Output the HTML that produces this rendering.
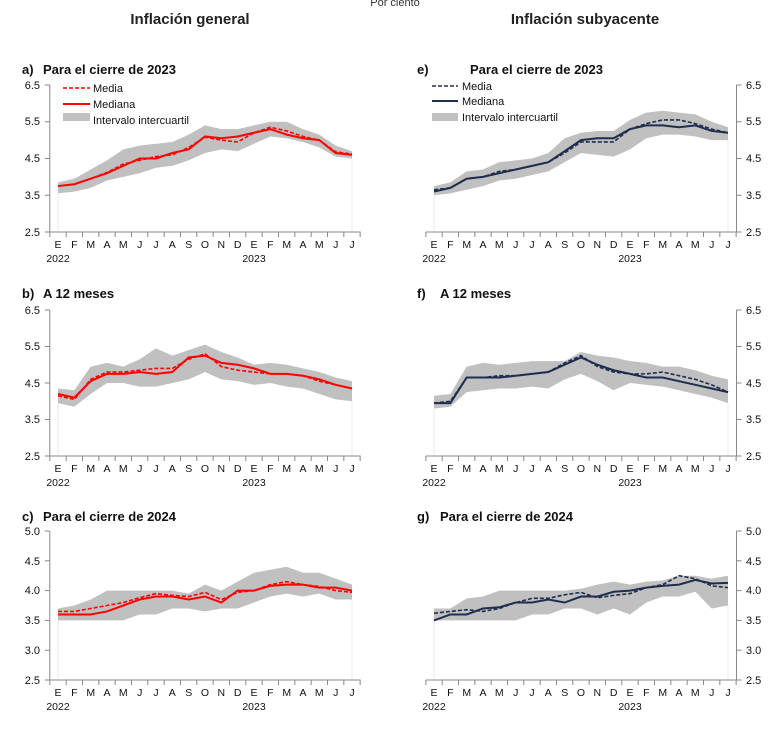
<!DOCTYPE html>
<html><head><meta charset="utf-8"><style>
html,body{margin:0;padding:0;background:#fff;}
svg{display:block;font-family:"Liberation Sans",sans-serif;}
.t{font-weight:bold;font-size:15px;fill:#222;}
.s{font-weight:bold;font-size:13px;fill:#111;}
.m{font-size:10.5px;fill:#111;text-anchor:middle;}
.yl{font-size:11px;fill:#111;}
.lg{font-size:11px;fill:#111;}
</style></head><body>
<svg id="c" width="777" height="738" viewBox="0 0 777 738">
<text x="395" y="6" font-size="11" fill="#333" text-anchor="middle">Por ciento</text>
<text class="t" x="190" y="24" text-anchor="middle">Inflación general</text>
<text class="t" x="585" y="24" text-anchor="middle">Inflación subyacente</text>

<text class="s" x="22" y="74">a)</text><text class="s" x="43" y="74">Para el cierre de 2023</text>
<text class="s" x="22" y="298">b)</text><text class="s" x="43" y="298">A 12 meses</text>
<text class="s" x="22" y="521">c)</text><text class="s" x="43" y="521">Para el cierre de 2024</text>
<text class="s" x="417" y="74">e)</text><text class="s" x="470" y="74">Para el cierre de 2023</text>
<text class="s" x="417" y="298">f)</text><text class="s" x="440" y="298">A 12 meses</text>
<text class="s" x="417" y="521">g)</text><text class="s" x="440" y="521">Para el cierre de 2024</text>

<g id="plots"></g>

<!-- y labels left -->
<g class="yl" text-anchor="end">
<text x="40" y="89">6.5</text><text x="40" y="125">5.5</text><text x="40" y="162">4.5</text><text x="40" y="199">3.5</text><text x="40" y="236">2.5</text>
<text x="40" y="314">6.5</text><text x="40" y="350">5.5</text><text x="40" y="387">4.5</text><text x="40" y="423">3.5</text><text x="40" y="460">2.5</text>
<text x="40" y="535">5.0</text><text x="40" y="565">4.5</text><text x="40" y="594">4.0</text><text x="40" y="624">3.5</text><text x="40" y="654">3.0</text><text x="40" y="684">2.5</text>
</g>
<g class="yl">
<text x="746" y="89">6.5</text><text x="746" y="125">5.5</text><text x="746" y="162">4.5</text><text x="746" y="199">3.5</text><text x="746" y="236">2.5</text>
<text x="746" y="314">6.5</text><text x="746" y="350">5.5</text><text x="746" y="387">4.5</text><text x="746" y="423">3.5</text><text x="746" y="460">2.5</text>
<text x="746" y="535">5.0</text><text x="746" y="565">4.5</text><text x="746" y="594">4.0</text><text x="746" y="624">3.5</text><text x="746" y="654">3.0</text><text x="746" y="684">2.5</text>
</g>
<!-- month labels -->
<g class="m">
<text x="58 74.3 90.7 107 123.3 139.7 156 172.3 188.7 205 221.3 237.7 254 270.3 286.7 303 319.3 335.7 352" y="248">EFMAMJJASONDEFMAMJJ</text>
<text x="58 74.3 90.7 107 123.3 139.7 156 172.3 188.7 205 221.3 237.7 254 270.3 286.7 303 319.3 335.7 352" y="472">EFMAMJJASONDEFMAMJJ</text>
<text x="58 74.3 90.7 107 123.3 139.7 156 172.3 188.7 205 221.3 237.7 254 270.3 286.7 303 319.3 335.7 352" y="696">EFMAMJJASONDEFMAMJJ</text>
<text x="434 450.3 466.7 483 499.3 515.7 532 548.3 564.7 581 597.3 613.7 630 646.3 662.7 679 695.3 711.7 728" y="248">EFMAMJJASONDEFMAMJJ</text>
<text x="434 450.3 466.7 483 499.3 515.7 532 548.3 564.7 581 597.3 613.7 630 646.3 662.7 679 695.3 711.7 728" y="472">EFMAMJJASONDEFMAMJJ</text>
<text x="434 450.3 466.7 483 499.3 515.7 532 548.3 564.7 581 597.3 613.7 630 646.3 662.7 679 695.3 711.7 728" y="696">EFMAMJJASONDEFMAMJJ</text>
<text x="58" y="262">2022</text><text x="254" y="262">2023</text>
<text x="58" y="486">2022</text><text x="254" y="486">2023</text>
<text x="58" y="710">2022</text><text x="254" y="710">2023</text>
<text x="434" y="262">2022</text><text x="630" y="262">2023</text>
<text x="434" y="486">2022</text><text x="630" y="486">2023</text>
<text x="434" y="710">2022</text><text x="630" y="710">2023</text>
</g>
<!-- legends -->
<rect x="63" y="113" width="27" height="8" fill="#c0c0c0"/>
<line x1="63" y1="88" x2="90" y2="88" stroke="#f00" stroke-width="1.5" stroke-dasharray="4,2"/>
<line x1="63" y1="104" x2="90" y2="104" stroke="#f00" stroke-width="2"/>
<text class="lg" x="93" y="92">Media</text><text class="lg" x="93" y="108">Mediana</text><text class="lg" x="93" y="124">Intervalo intercuartil</text>
<rect x="432" y="113" width="26" height="8" fill="#c0c0c0"/>
<line x1="432" y1="86" x2="458" y2="86" stroke="#1f2d4e" stroke-width="1.5" stroke-dasharray="4,2"/>
<line x1="432" y1="101" x2="458" y2="101" stroke="#1f2d4e" stroke-width="2"/>
<text class="lg" x="462" y="90">Media</text><text class="lg" x="462" y="105">Mediana</text><text class="lg" x="462" y="121">Intervalo intercuartil</text>
</svg>
<script>
var NS="http://www.w3.org/2000/svg",P=document.getElementById("plots");
function el(t,a){var e=document.createElementNS(NS,t);for(var k in a)e.setAttribute(k,a[k]);P.appendChild(e);return e;}
function chart(o){
 var xs=function(i){return o.x0+16.333*i;};
 var ys=function(v){return o.yb-(v-o.vmin)/(o.vmax-o.vmin)*(o.yb-o.yt);};
 var pts=[],i;
 for(i=0;i<19;i++)pts.push(xs(i)+","+ys(o.hi[i]));
 for(i=18;i>=0;i--)pts.push(xs(i)+","+ys(o.lo[i]));
 el("line",{x1:xs(0),y1:ys(o.lo[0]),x2:xs(0),y2:o.yb,stroke:"#e8e8e8","stroke-width":1});
 el("line",{x1:xs(18),y1:ys(o.lo[18]),x2:xs(18),y2:o.yb,stroke:"#e8e8e8","stroke-width":1});
 el("polygon",{points:pts.join(" "),fill:"#c0c0c0"});
 var mp=o.mean.map(function(v,i){return xs(i)+","+ys(v);}).join(" ");
 var dp=o.med.map(function(v,i){return xs(i)+","+ys(v);}).join(" ");
 el("polyline",{points:dp,fill:"none",stroke:o.col,"stroke-width":2});
 el("polyline",{points:mp,fill:"none",stroke:o.col,"stroke-width":1.6,"stroke-dasharray":"4,2"});
 // axes
 var ax=o.right?o.x0+302.5:o.x0-8.2;
 el("line",{x1:o.x0-8.2,y1:o.yb,x2:o.x0+302.5,y2:o.yb,stroke:"#888","stroke-width":1});
 el("line",{x1:ax,y1:o.yt,x2:ax,y2:o.yb,stroke:"#888","stroke-width":1});
 for(i=0;i<=19;i++){var x=o.x0-8.17+16.333*i;el("line",{x1:x,y1:o.yb,x2:x,y2:o.yb+5,stroke:"#888"});}
 for(var v=o.vmin;v<=o.vmax+1e-9;v+=o.step){var y=ys(v);el("line",{x1:o.right?ax:ax-5,y1:y,x2:o.right?ax+5:ax,y2:y,stroke:"#888"});}
}
var R="#ff0000",N="#1f2d4e";
chart({x0:58,yt:85,yb:232,vmin:2.5,vmax:6.5,step:1,col:R,
med:[3.75,3.8,3.95,4.1,4.3,4.5,4.5,4.65,4.75,5.1,5.05,5.1,5.2,5.3,5.15,5.05,5.0,4.65,4.6],
mean:[3.75,3.8,3.95,4.12,4.35,4.45,4.55,4.6,4.8,5.08,5.0,4.95,5.2,5.35,5.25,5.1,5.0,4.68,4.62],
lo:[3.55,3.6,3.7,3.9,4.0,4.1,4.25,4.3,4.45,4.65,4.75,4.7,4.9,5.1,5.05,4.95,4.8,4.55,4.5],
hi:[3.85,3.95,4.2,4.45,4.75,4.85,4.9,4.95,5.15,5.4,5.3,5.3,5.4,5.5,5.5,5.3,5.15,4.85,4.7]});
chart({x0:58,yt:310,yb:456,vmin:2.5,vmax:6.5,step:1,col:R,
med:[4.2,4.1,4.55,4.75,4.75,4.8,4.75,4.8,5.2,5.25,5.05,5.0,4.9,4.75,4.75,4.7,4.6,4.45,4.35],
mean:[4.15,4.05,4.6,4.8,4.8,4.85,4.9,4.9,5.15,5.3,4.95,4.85,4.8,4.75,4.75,4.7,4.55,4.45,4.35],
lo:[3.95,3.85,4.2,4.5,4.5,4.4,4.4,4.5,4.6,4.8,4.6,4.55,4.45,4.5,4.4,4.35,4.2,4.05,4.0],
hi:[4.35,4.3,4.95,5.05,4.95,5.15,5.45,5.25,5.4,5.55,5.35,5.2,5.0,5.05,5.0,4.9,4.8,4.65,4.55]});
chart({x0:58,yt:531,yb:680,vmin:2.5,vmax:5.0,step:0.5,col:R,
med:[3.6,3.6,3.6,3.65,3.75,3.85,3.9,3.9,3.85,3.9,3.8,4.0,4.0,4.08,4.1,4.1,4.05,4.05,4.0],
mean:[3.65,3.65,3.7,3.75,3.8,3.88,3.95,3.92,3.9,3.97,3.85,3.97,4.0,4.1,4.15,4.1,4.07,4.0,3.97],
lo:[3.5,3.5,3.5,3.5,3.5,3.6,3.6,3.7,3.7,3.65,3.7,3.7,3.8,3.9,3.95,3.9,3.95,3.85,3.85],
hi:[3.7,3.75,3.85,4.0,4.0,4.0,4.0,4.0,3.95,4.1,4.0,4.15,4.3,4.35,4.4,4.3,4.3,4.2,4.1]});
chart({x0:434,right:1,yt:85,yb:232,vmin:2.5,vmax:6.5,step:1,col:N,
med:[3.6,3.7,3.95,4.0,4.1,4.2,4.3,4.4,4.7,5.0,5.05,5.05,5.3,5.4,5.4,5.35,5.4,5.25,5.2],
mean:[3.65,3.7,3.95,4.0,4.15,4.2,4.3,4.4,4.65,4.95,4.95,4.95,5.3,5.45,5.55,5.55,5.45,5.3,5.2],
lo:[3.5,3.55,3.65,3.75,3.9,3.95,4.05,4.15,4.4,4.65,4.6,4.55,4.75,5.05,5.15,5.15,5.1,5.0,5.0],
hi:[3.75,3.85,4.15,4.2,4.4,4.45,4.5,4.65,5.05,5.2,5.25,5.25,5.55,5.75,5.8,5.75,5.7,5.5,5.35]});
chart({x0:434,right:1,yt:310,yb:456,vmin:2.5,vmax:6.5,step:1,col:N,
med:[3.95,3.95,4.65,4.65,4.65,4.7,4.75,4.8,5.0,5.2,5.0,4.85,4.75,4.65,4.65,4.55,4.45,4.35,4.25],
mean:[3.95,4.0,4.65,4.65,4.7,4.7,4.75,4.8,5.05,5.25,4.95,4.8,4.75,4.75,4.8,4.7,4.6,4.45,4.25],
lo:[3.8,3.85,4.25,4.3,4.35,4.35,4.4,4.35,4.6,4.75,4.55,4.3,4.5,4.45,4.4,4.3,4.2,4.1,3.95],
hi:[4.15,4.2,4.95,5.05,5.0,5.05,5.1,5.1,5.1,5.35,5.25,5.2,5.1,5.05,4.95,4.95,4.85,4.7,4.6]});
chart({x0:434,right:1,yt:531,yb:680,vmin:2.5,vmax:5.0,step:0.5,col:N,
med:[3.5,3.6,3.6,3.7,3.72,3.8,3.8,3.85,3.8,3.9,3.9,3.98,4.0,4.05,4.08,4.1,4.18,4.12,4.13],
mean:[3.62,3.65,3.68,3.65,3.7,3.8,3.87,3.87,3.93,3.97,3.88,3.92,3.95,4.05,4.1,4.25,4.2,4.08,4.05],
lo:[3.5,3.5,3.5,3.5,3.5,3.5,3.6,3.6,3.7,3.7,3.6,3.7,3.6,3.8,3.9,3.9,3.98,3.7,3.75],
hi:[3.7,3.7,3.87,3.9,4.0,4.0,4.0,4.0,4.0,4.03,4.1,4.15,4.1,4.15,4.17,4.25,4.25,4.2,4.25]});
</script>
</body></html>
